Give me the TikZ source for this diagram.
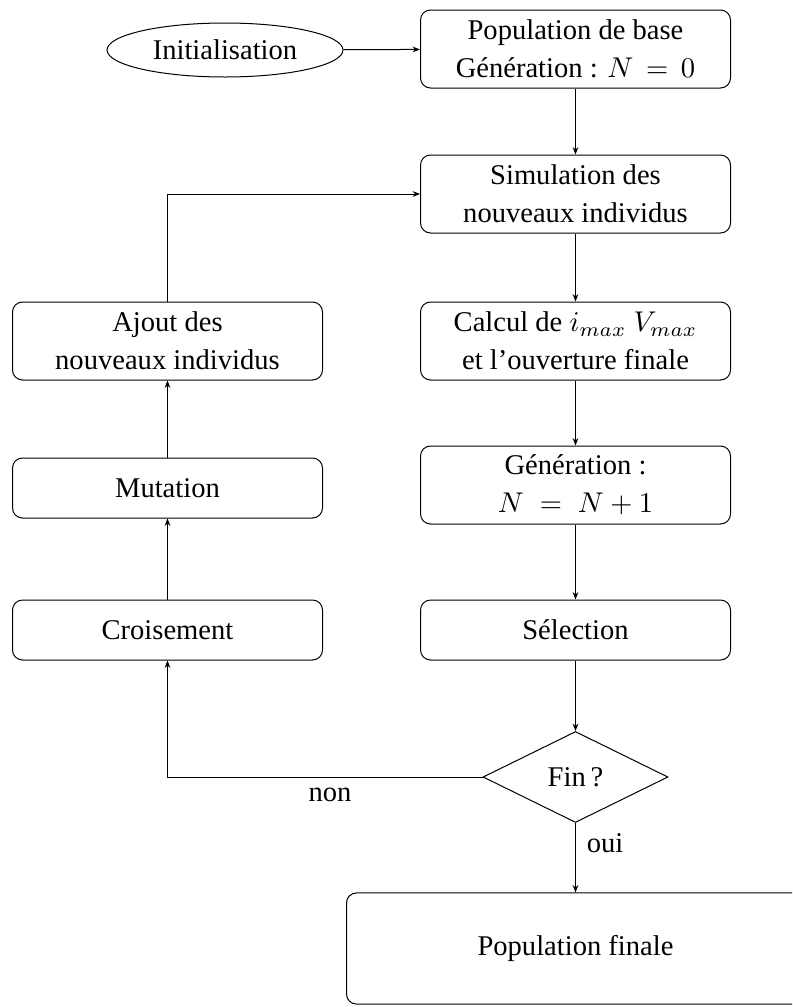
\documentclass[tikz,border=0pt]{standalone}
\usepackage[no-math]{fontspec}
\setmainfont{Liberation Serif}
\usetikzlibrary{shapes.geometric,arrows.meta}
\begin{document}
\begin{tikzpicture}[x=0.35pt,y=-0.35pt,line width=0.35pt,
  every node/.style={font=\fontsize{10}{13.3}\selectfont},
  box/.style={draw,rounded corners=3.5pt,minimum width=108.5pt,minimum height=21pt,
    inner ysep=2pt,align=center},
  twoline/.style={box,minimum height=27.3pt},
  startnode/.style={draw,ellipse,minimum width=82.6pt,minimum height=18.9pt,inner sep=1pt},
  decision/.style={draw,diamond,aspect=2.03,minimum width=64.75pt,minimum height=31.85pt,inner sep=0pt},
  arr/.style={-{Stealth[length=2.6pt,width=2pt]}},
  lbl/.style={inner sep=1pt}]
\useasboundingbox (0,0) rectangle (792,1007);
\clip (0,0) rectangle (792,1007);
\node[startnode] (init) at (225,50) {Initialisation};
\node[twoline] (base) at (575.5,49) {Population de base\\G\'en\'eration : $N\,=\,0$};
\node[twoline] (sim) at (575.5,194) {Simulation des\\nouveaux individus};
\node[twoline] (calc) at (575.5,341) {Calcul de $i_{max}$ $V_{max}$\\et l'ouverture finale};
\node[twoline] (gen) at (575.5,485) {G\'en\'eration :\\$N\;=\;N+1$};
\node[box] (sel) at (575.5,630) {S\'election};
\node[decision] (fin) at (575.5,777) {Fin\,?};
\node[draw,rounded corners=3.5pt,minimum width=160.3pt,minimum height=38.9pt] (final) at (575.5,948.5) {Population finale};
\node[twoline] (ajout) at (167.5,341) {Ajout des\\nouveaux individus};
\node[box] (mut) at (167.5,488) {Mutation};
\node[box] (crois) at (167.5,630) {Croisement};
\node[lbl] (non) at (330,795) {non};
\node[lbl] (oui) at (605,843) {oui};
\draw[arr] (init) -- (base);
\draw[arr] (base) -- (sim);
\draw[arr] (sim) -- (calc);
\draw[arr] (calc) -- (gen);
\draw[arr] (gen) -- (sel);
\draw[arr] (sel) -- (fin);
\draw[arr] (fin) -- (final);
\draw[arr] (fin.west) -| (crois.south);
\draw[arr] (crois) -- (mut);
\draw[arr] (mut) -- (ajout);
\draw[arr] (ajout.north) |- (sim.west);
\end{tikzpicture}
\end{document}
